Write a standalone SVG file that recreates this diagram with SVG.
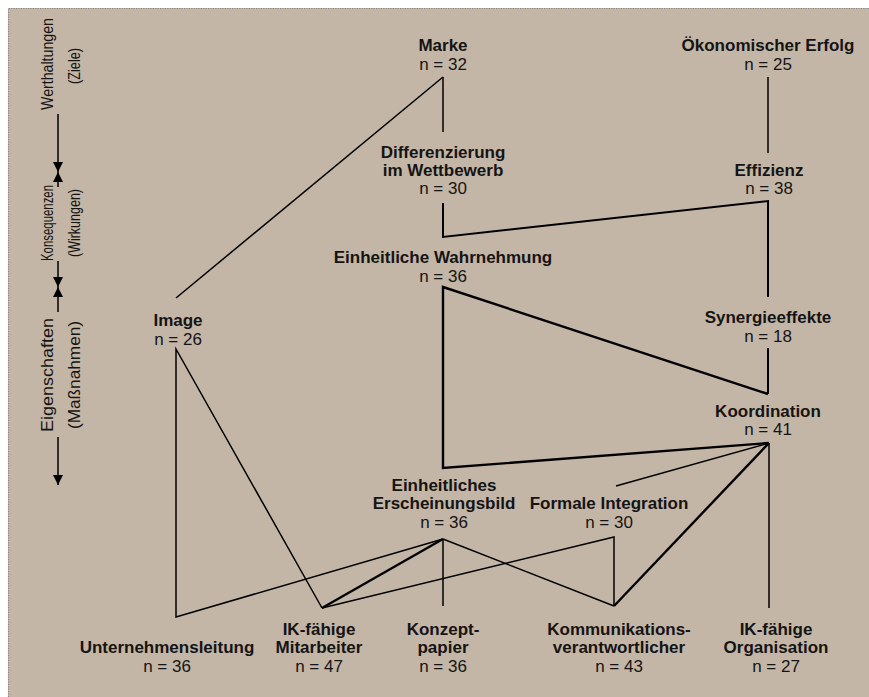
<svg xmlns="http://www.w3.org/2000/svg" width="869" height="697" viewBox="0 0 869 697">
<defs>
<style>
.bg{fill:#c4b6a6}
.frame{fill:none;stroke:#8a8a8a;stroke-width:1.2;stroke-dasharray:1.2 1.2}
text{font-family:"Liberation Sans",Arial,sans-serif;fill:#141414;text-anchor:middle}
.b{font-weight:bold;font-size:17px}
.r{font-size:17px}
.ax{font-size:17px}
.c{fill:none;stroke:#000;stroke-linejoin:miter;stroke-linecap:butt}
.t{stroke-width:1.5}
.m{stroke-width:2}
.k{stroke-width:2.4}
</style>
<marker id="ah" viewBox="0 0 10 10" refX="10" refY="5" markerWidth="10" markerHeight="10" markerUnits="userSpaceOnUse" orient="auto">
<path d="M0,0 L10,5 L0,10 Z" fill="#000"/>
</marker>
</defs>
<rect x="0" y="0" width="869" height="697" fill="#ffffff"/>
<rect class="bg" x="8" y="8" width="861" height="689"/>
<path class="frame" d="M8.5,697 V8.5 H869"/>

<g id="axis">
<g class="c t">
<line x1="58" y1="114" x2="58" y2="172" marker-end="url(#ah)"/>
<line x1="58" y1="187" x2="58" y2="172" marker-end="url(#ah)"/>
<line x1="58" y1="261" x2="58" y2="287" marker-end="url(#ah)"/>
<line x1="58" y1="312" x2="58" y2="287" marker-end="url(#ah)"/>
<line x1="58" y1="437" x2="58" y2="485" marker-end="url(#ah)"/>
</g>
<text class="ax" transform="translate(53,64) rotate(-90)" textLength="92" lengthAdjust="spacingAndGlyphs" style="font-size:16px">Werthaltungen</text>
<text class="ax" transform="translate(80,66) rotate(-90)" textLength="36" lengthAdjust="spacingAndGlyphs">(Ziele)</text>
<text class="ax" transform="translate(53,223) rotate(-90)" textLength="76" lengthAdjust="spacingAndGlyphs">Konsequenzen</text>
<text class="ax" transform="translate(80,223) rotate(-90)" textLength="68" lengthAdjust="spacingAndGlyphs">(Wirkungen)</text>
<text class="ax" transform="translate(53,375) rotate(-90)" textLength="114" lengthAdjust="spacingAndGlyphs">Eigenschaften</text>
<text class="ax" transform="translate(80,375) rotate(-90)" textLength="108" lengthAdjust="spacingAndGlyphs">(Maßnahmen)</text>
</g>

<g id="connectors">
<line class="c t" x1="443" y1="77" x2="443" y2="132"/>
<line class="c t" x1="443" y1="77" x2="176" y2="298"/>
<line class="c t" x1="768" y1="77" x2="768" y2="153"/>
<polyline class="c m" points="443,203 443,237 768,201 768,297"/>
<line class="c m" x1="768" y1="348" x2="768" y2="394"/>
<polyline class="c k" points="768,394 443,287 443,468 769,443"/>
<polyline class="c t" points="322,608 176,349 176,617 443,539"/>
<line class="c t" x1="769" y1="443" x2="769" y2="608"/>
<line class="c t" x1="769" y1="443" x2="616" y2="486"/>
<line class="c k" x1="769" y1="443" x2="614" y2="606"/>
<line class="c t" x1="443" y1="539" x2="443" y2="606"/>
<line class="c t" x1="443" y1="539" x2="614" y2="606"/>
<line class="c k" x1="443" y1="539" x2="322" y2="608"/>
<polyline class="c t" points="322,608 614,537 614,606"/>
</g>

<g id="marke"><text class="b" x="443" y="51">Marke</text><text class="r" x="443" y="70">n = 32</text></g>
<g id="oekonomischer-erfolg"><text class="b" x="768" y="51">Ökonomischer Erfolg</text><text class="r" x="768" y="70">n = 25</text></g>
<g id="differenzierung"><text class="b" x="443" y="158">Differenzierung</text><text class="b" x="443" y="176">im Wettbewerb</text><text class="r" x="443" y="194">n = 30</text></g>
<g id="effizienz"><text class="b" x="769" y="176">Effizienz</text><text class="r" x="769" y="194">n = 38</text></g>
<g id="wahrnehmung"><text class="b" x="443" y="263">Einheitliche Wahrnehmung</text><text class="r" x="443" y="282">n = 36</text></g>
<g id="image"><text class="b" x="178" y="326">Image</text><text class="r" x="178" y="345">n = 26</text></g>
<g id="synergieeffekte"><text class="b" x="768" y="323">Synergieeffekte</text><text class="r" x="768" y="342">n = 18</text></g>
<g id="koordination"><text class="b" x="768" y="417">Koordination</text><text class="r" x="768" y="435">n = 41</text></g>
<g id="erscheinungsbild"><text class="b" x="444" y="491">Einheitliches</text><text class="b" x="444" y="509">Erscheinungsbild</text><text class="r" x="444" y="528">n = 36</text></g>
<g id="formale-integration"><text class="b" x="609" y="509">Formale Integration</text><text class="r" x="609" y="528">n = 30</text></g>
<g id="unternehmensleitung"><text class="b" x="167" y="653">Unternehmensleitung</text><text class="r" x="167" y="672">n = 36</text></g>
<g id="ik-mitarbeiter"><text class="b" x="319" y="635">IK-fähige</text><text class="b" x="319" y="653">Mitarbeiter</text><text class="r" x="319" y="672">n = 47</text></g>
<g id="konzeptpapier"><text class="b" x="443" y="635">Konzept-</text><text class="b" x="443" y="653">papier</text><text class="r" x="443" y="672">n = 36</text></g>
<g id="kommunikation"><text class="b" x="619" y="635">Kommunikations-</text><text class="b" x="619" y="653">verantwortlicher</text><text class="r" x="619" y="672">n = 43</text></g>
<g id="ik-organisation"><text class="b" x="776" y="635">IK-fähige</text><text class="b" x="776" y="653">Organisation</text><text class="r" x="776" y="672">n = 27</text></g>
</svg>
